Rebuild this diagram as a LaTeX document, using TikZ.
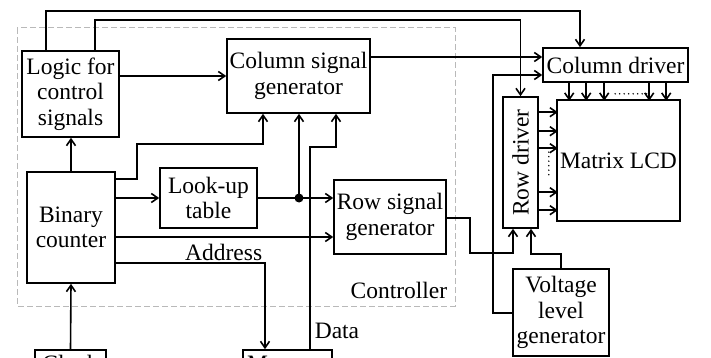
\documentclass[tikz,border=0pt]{standalone}
\usepackage{fontspec}
\setmainfont{Liberation Serif}
\usetikzlibrary{arrows.meta}
\begin{document}
\begin{tikzpicture}[x=1pt,y=-1pt,line width=1.6pt,
  box/.style={draw,line width=1.6pt,inner sep=0pt,align=center,font=\fontsize{23.5}{25.5}\selectfont},
  arr/.style={-{Straight Barb[length=6.5pt,width=9pt]}},
  lbl/.style={font=\fontsize{23.5}{25.5}\selectfont,inner sep=0pt}]
\useasboundingbox (0,0) rectangle (711,358);
\clip (0,0) rectangle (711,358);
% controller frame
\draw[gray!55,line width=1pt,dash pattern=on 6pt off 3pt] (17,28) rectangle (455,306);
\node[lbl,anchor=base east] (ctl) at (448,298) {Controller};
% boxes
\node[box,minimum width=97pt,minimum height=86pt] (logic) at (70.5,94) {Logic for\\control\\signals};
\node[box,minimum width=143pt,minimum height=74pt] (csg) at (298.5,76) {Column signal\\generator};
\node[box,minimum width=145pt,minimum height=34pt] (cold) at (615.5,65) {Column driver};
\node[box,minimum width=35pt,minimum height=131pt] (rowd) at (520.5,162.5) {};
\node[lbl,rotate=90] (rowdt) at (rowd.center) {Row driver};
\node[box,minimum width=123pt,minimum height=121pt] (lcd) at (618.5,160.5) {Matrix LCD};
\node[box,minimum width=96pt,minimum height=87pt] (vlg) at (561,312.5) {Voltage\\level\\generator};
\node[box,minimum width=112pt,minimum height=74pt] (rsg) at (390,217) {Row signal\\generator};
\node[box,minimum width=88pt,minimum height=111pt] (bc) at (71,227.5) {Binary\\counter};
\node[box,minimum width=97pt,minimum height=60pt] (lut) at (208.5,198) {Look-up\\table};
\node[draw,line width=1.6pt,minimum width=71pt,minimum height=40pt] (clock) at (70.5,370) {};
\node[lbl,anchor=base] (clockt) at (70.5,371) {Clock};
\node[draw,line width=1.6pt,minimum width=89pt,minimum height=40pt] (mem) at (287.5,370) {};
\node[lbl,anchor=base] (memt) at (287.5,371) {Memory};
% labels
\node[lbl,anchor=base west] (data) at (314,338) {Data};
\node[lbl,anchor=base east] (addr) at (263,260) {Address};
% coordinates
\coordinate (p1) at (46,11); \coordinate (p2) at (580,11);
\coordinate (q1) at (95,20); \coordinate (q2) at (520.5,20);
\coordinate (r1) at (0,57);
\coordinate (s1) at (137,179); \coordinate (s2) at (137,144); \coordinate (s3) at (263,144);
\coordinate (j) at (299,198);
\coordinate (d1) at (310,147); \coordinate (d2) at (336,147);
\coordinate (u) at (0,237);
\coordinate (v) at (265,263);
\coordinate (w1) at (470,218); \coordinate (w2) at (470,253); \coordinate (w3) at (513,253);
\coordinate (z1) at (561,254); \coordinate (z2) at (531,254);
\coordinate (x1) at (493,75); \coordinate (x2) at (493,313);
% connectors
\draw[arr] (logic.north -| p1) -- (p1) -- (p2) -- (cold.north -| p2);
\draw[arr] (logic.north -| q1) -- (q1) -- (q2) -- (rowd.north);
\draw[arr] (logic.east |- csg.west) -- (csg.west);
\draw[arr] (csg.east |- r1) -- (cold.west |- r1);
\draw[arr] (bc.north) -- (bc.north |- logic.south);
\draw[arr] (bc.east |- s1) -- (s1) -- (s2) -- (s3) -- (csg.south -| s3);
\draw[arr] (bc.east |- lut.west) -- (lut.west);
\draw[arr] (lut.east) -- (rsg.west |- lut.east);
\fill (j) circle (4.5pt);
\draw[arr] (j) -- (csg.south -| j);
\draw[arr] (mem.north -| d1) -- (d1) -- (d2) -- (csg.south -| d2);
\draw[arr] (bc.east |- u) -- (rsg.west |- u);
\draw[arr] (bc.east |- v) -- (v) -- (mem.north -| v);
\draw[arr] (clock.north) -- (bc.south);
\draw[arr] (rsg.east |- w1) -- (w1) -- (w2) -- (w3) -- (rowd.south -| w3);
\draw[arr] (vlg.north -| z1) -- (z1) -- (z2) -- (rowd.south -| z2);
\draw[arr] (vlg.west |- x2) -- (x2) -- (x1) -- (cold.west |- x1);
\foreach \dx in {27,44,62,107,124}
  \draw[arr] (cold.south west) ++(\dx,0) -- ++(0,18);
\foreach \dy in {16,35,52,96,114}
  \draw[arr] (rowd.north east) ++(0,\dy) -- ++(19,0);
\draw[line width=1.6pt,line cap=round,dash pattern=on 0pt off 4.5pt] (cold.south west) ++(73,11) -- ++(32,0);
\draw[line width=1.6pt,line cap=round,dash pattern=on 0pt off 4.5pt] (rowd.north east) ++(10,56) -- ++(0,26);
\end{tikzpicture}
\end{document}
